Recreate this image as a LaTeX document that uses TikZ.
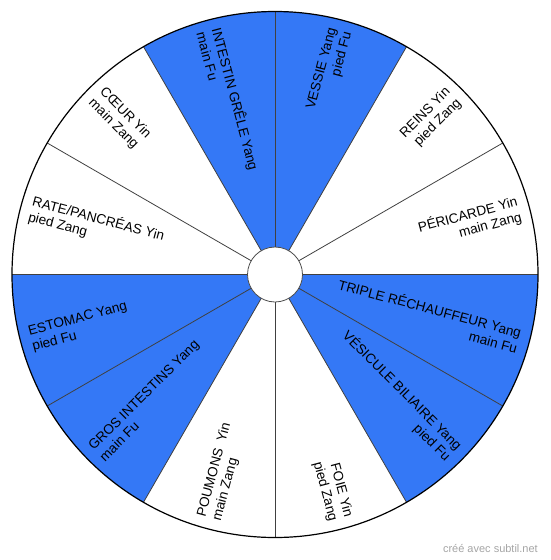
\documentclass[tikz,border=0pt]{standalone}
\usepackage{fontspec}
\setmainfont{Liberation Sans}
\usepackage{xcolor}
\usepackage{tikz}
\usetikzlibrary{calc,positioning}

\definecolor{yangblue}{RGB}{52,120,246}
\definecolor{signgray}{RGB}{165,165,165}

\begin{document}
\begin{tikzpicture}[
  x=1pt, y=1pt,
  yangpart/.style={fill=yangblue, draw=none},
  divider/.style={draw=black!75, line width=0.8pt},
  organright/.style={anchor=east, align=right, inner sep=0pt, font=\fontsize{13.6}{15.8}\selectfont},
  organleft/.style={anchor=west, align=left, inner sep=0pt, font=\fontsize{13.6}{15.8}\selectfont}
]

\useasboundingbox (0,0) rectangle (550,-560);
\coordinate (c) at (275,-274.5);

% yang sectors
\fill[yangpart] (c) -- ($(c)+(60:263)$) arc (60:120:263) -- cycle;
\fill[yangpart] (c) -- ($(c)+(-60:263)$) arc (-60:0:263) -- cycle;
\fill[yangpart] (c) -- ($(c)+(180:263)$) arc (180:240:263) -- cycle;

% dividers
\draw[divider] ($(c)+(0:263)$) -- ($(c)+(180:263)$);
\draw[divider] ($(c)+(30:263)$) -- ($(c)+(210:263)$);
\draw[divider] ($(c)+(60:263)$) -- ($(c)+(240:263)$);
\draw[divider] ($(c)+(90:263)$) -- ($(c)+(270:263)$);
\draw[divider] ($(c)+(120:263)$) -- ($(c)+(300:263)$);
\draw[divider] ($(c)+(150:263)$) -- ($(c)+(330:263)$);

\draw[black, line width=1.2pt] (c) circle (263);
\node[circle, draw=black!70, fill=white, line width=0.8pt, minimum size=55, inner sep=0pt] (hub) at (c) {};

% right half
\node[organright, rotate=75] (vessie) at ($(c)+(75:253)$) {VESSIE Yang\\pied Fu};
\node[organright, rotate=45] (reins) at ($(c)+(45:253)$) {REINS Yin\\pied Zang};
\node[organright, rotate=15] (pericarde) at ($(c)+(15:253)$) {PÉRICARDE Yin\\main Zang};
\node[organright, rotate=-15] (triple) at ($(c)+(-15:253)$) {TRIPLE RÉCHAUFFEUR Yang\\main Fu};
\node[organright, rotate=-45] (vesicule) at ($(c)+(-45:253)$) {VÉSICULE BILIAIRE Yang\\pied Fu};
\node[organright, rotate=-75] (foie) at ($(c)+(-75:253)$) {FOIE Yin\\pied Zang};

% left half
\node[organleft, rotate=75] (poumons) at ($(c)+(-105:253)$) {POUMONS\ \ Yin\\main Zang};
\node[organleft, rotate=45] (gros) at ($(c)+(-135:253)$) {GROS INTESTINS Yang\\main Fu};
\node[organleft, rotate=15] (estomac) at ($(c)+(-165:253)$) {ESTOMAC Yang\\pied Fu};
\node[organleft, rotate=-15] (rate) at ($(c)+(165:253)$) {RATE/PANCRÉAS Yin\\pied Zang};
\node[organleft, rotate=-45] (coeur) at ($(c)+(135:253)$) {CŒUR Yin\\main Zang};
\node[organleft, rotate=-75] (grele) at ($(c)+(105:253)$) {INTESTIN GRÊLE Yang\\main Fu};

\node[anchor=base east, inner sep=0pt, text=signgray, font=\fontsize{11}{13}\selectfont] (sign) at (538,-552) {créé avec subtil.net};

\end{tikzpicture}
\end{document}
